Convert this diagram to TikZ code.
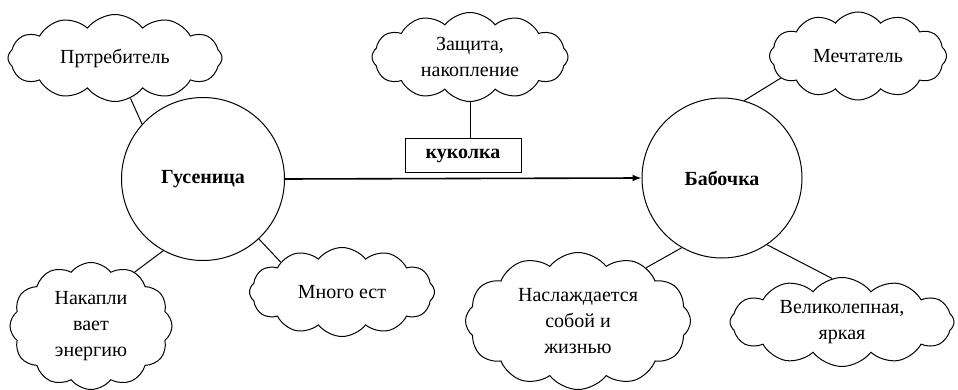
\documentclass[tikz,border=0pt]{standalone}
\usepackage{fontspec}
\setmainfont{Liberation Serif}
\newfontfamily\cyrserif{Liberation Serif}
\usetikzlibrary{shapes.symbols, arrows.meta}

\newcommand{\labelfont}{\cyrserif\fontsize{20pt}{26pt}\selectfont}

\tikzset{
  stage/.style = {draw, circle, line width = 1pt, minimum size = 163pt,
    font = \labelfont\bfseries},
  thought/.style = {draw, cloud, cloud puffs = 12, cloud puff arc = 105,
    cloud ignores aspect, line width = 1pt, inner sep = 0pt,
    align = center, font = \labelfont},
  cocoon/.style = {draw, rectangle, line width = 1pt, minimum width = 116pt,
    minimum height = 34pt, font = \labelfont\bfseries}
}

\begin{document}
\begin{tikzpicture}[x = 1pt, y = -1pt]
  \useasboundingbox (0, 0) rectangle (958, 390);

  \node[stage] (gus) at (203, 179) {Гусеница};
  \node[stage, minimum size = 160pt] (bab) at (722, 178) {Бабочка};
  \node[cocoon] (kuk) at (463, 156) {куколка};

  \node[thought, minimum width = 214pt, minimum height = 87pt] (potr) at
  (115, 58) {Пртребитель};
  \node[thought, minimum width = 196pt, minimum height = 89pt] (zash) at
  (470, 57) {Защита,\\накопление};
  \node[thought, minimum width = 177pt, minimum height = 88pt] (mecht) at
  (858, 56) {Мечтатель};
  \node[thought, minimum width = 162pt, minimum height = 127pt] (nakap) at
  (91, 326) {Накапли\\вает\\энергию};
  \node[thought, minimum width = 185pt, minimum height = 89pt] (mnogo) at
  (342, 292) {Много ест};
  \node[thought, minimum width = 225pt, minimum height = 137pt] (nasl) at
  (578, 321) {Наслаждается\\собой и\\жизнью};
  \node[thought, minimum width = 224pt, minimum height = 89pt] (velik) at
  (842, 322) {Великолепная,\\яркая};

  \draw[line width = 1.6pt, -{Latex[length = 9pt, width = 7pt]}] (gus.east)
  -- (bab.west);
  \draw[line width = 1pt] (zash.south) -- (zash.south |- kuk.north);

  \draw[line width = 1pt] (gus.138) -- (potr.-69);
  \draw[line width = 1pt] (gus.-119) -- (nakap.51);
  \draw[line width = 1pt] (gus.-47) -- (mnogo.154);
  \draw[line width = 1pt] (bab.74) -- (mecht.-164);
  \draw[line width = 1pt] (bab.-120) -- (nasl.38);
  \draw[line width = 1pt] (bab.-56) -- (velik.103);
\end{tikzpicture}
\end{document}
